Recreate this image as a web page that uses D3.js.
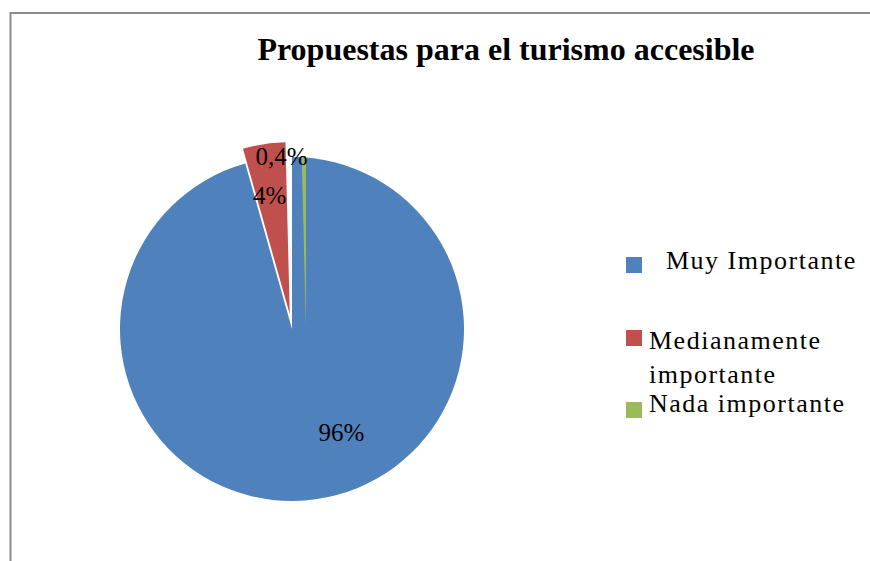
<!DOCTYPE html>
<html>
<head>
<meta charset="utf-8">
<script src="https://cdn.jsdelivr.net/npm/d3@7"></script>
<style>
  body { margin: 0; background: #fff; }
  svg { display: block; }
  text { font-family: "Liberation Serif", "Times New Roman", serif; fill: #000; }
</style>
</head>
<body>
<div id="chart"></div>
<script>
// data
const categories = ['Muy Importante', 'Medianamente importante', 'Nada importante'];
const values = [96, 4, 0.4];
const labels = ['96%', '4%', '0,4%'];
const colors = ['#4F81BD', '#C0504D', '#9BBB59'];

const width = 870;
const height = 561;
const cx = 292, cy = 329, radius = 172;

const svg = d3.select('#chart')
  .append('svg')
  .attr('width', width)
  .attr('height', height);

// chart frame (only top and left edges are visible in the crop)
svg.append('rect')
  .attr('x', 10.5).attr('y', 13)
  .attr('width', width + 20).attr('height', height + 20)
  .attr('fill', 'none')
  .attr('stroke', '#8a8a8a')
  .attr('stroke-width', 2);

// title
svg.append('text')
  .attr('x', 506).attr('y', 60)
  .attr('text-anchor', 'middle')
  .attr('font-size', 32)
  .attr('font-weight', 'bold')
  .text('Propuestas para el turismo accesible');

const pie = d3.pie().sort(null).value((d) => d);
const arcs = pie(values);
const arc = d3.arc().innerRadius(0).outerRadius(radius);
const labelArc = d3.arc().innerRadius(radius * 0.7).outerRadius(radius * 0.7);

// exploded slices: red pulled out along its bisector, green pushed sideways
const explode = [0, 15, 0];
const extraShift = [[0, 0], [0, 0], [14, -1]];
function offset(d, i) {
  const mid = (d.startAngle + d.endAngle) / 2;
  return [
    Math.sin(mid) * explode[i] + extraShift[i][0],
    -Math.cos(mid) * explode[i] + extraShift[i][1],
  ];
}

const g = svg.append('g').attr('transform', `translate(${cx},${cy})`);

g.selectAll('path')
  .data(arcs)
  .enter()
  .append('path')
  .attr('d', arc)
  .attr('fill', (d, i) => colors[i])
  .attr('transform', (d, i) => `translate(${offset(d, i)})`);

// data labels
const labelNudge = [[33, -16], [-2, 0], [-23, -51]];
g.selectAll('text.lbl')
  .data(arcs)
  .enter()
  .append('text')
  .attr('class', 'lbl')
  .attr('text-anchor', 'middle')
  .attr('dy', '0.35em')
  .attr('font-size', 25)
  .attr('x', (d, i) => labelArc.centroid(d)[0] + offset(d, i)[0] + labelNudge[i][0])
  .attr('y', (d, i) => labelArc.centroid(d)[1] + offset(d, i)[1] + labelNudge[i][1])
  .text((d, i) => labels[i]);

// legend
const legendX = 626;
const legendSquareTop = [257, 330, 402];
const legendBaseline = [269, 349, 412];
const legendTextX = [666, 649, 649];
const lineHeight = 34;
const maxTextWidth = 215;

const legend = svg.selectAll('g.legend')
  .data(categories)
  .enter()
  .append('g')
  .attr('class', 'legend');

legend.append('rect')
  .attr('x', legendX)
  .attr('y', (d, i) => legendSquareTop[i])
  .attr('width', 16)
  .attr('height', 16)
  .attr('fill', (d, i) => colors[i]);

legend.each(function (d, i) {
  const t = d3.select(this).append('text')
    .attr('x', legendTextX[i])
    .attr('y', legendBaseline[i])
    .attr('font-size', 26)
    .attr('letter-spacing', 1.5);
  // greedy word wrap
  const words = d.split(' ');
  let line = [];
  let tspan = t.append('tspan').attr('x', legendTextX[i]).attr('dy', 0);
  words.forEach((w) => {
    line.push(w);
    tspan.text(line.join(' '));
    if (tspan.node().getComputedTextLength() > maxTextWidth && line.length > 1) {
      line.pop();
      tspan.text(line.join(' '));
      line = [w];
      tspan = t.append('tspan').attr('x', legendTextX[i]).attr('dy', lineHeight).text(w);
    }
  });
});
</script>
</body>
</html>
